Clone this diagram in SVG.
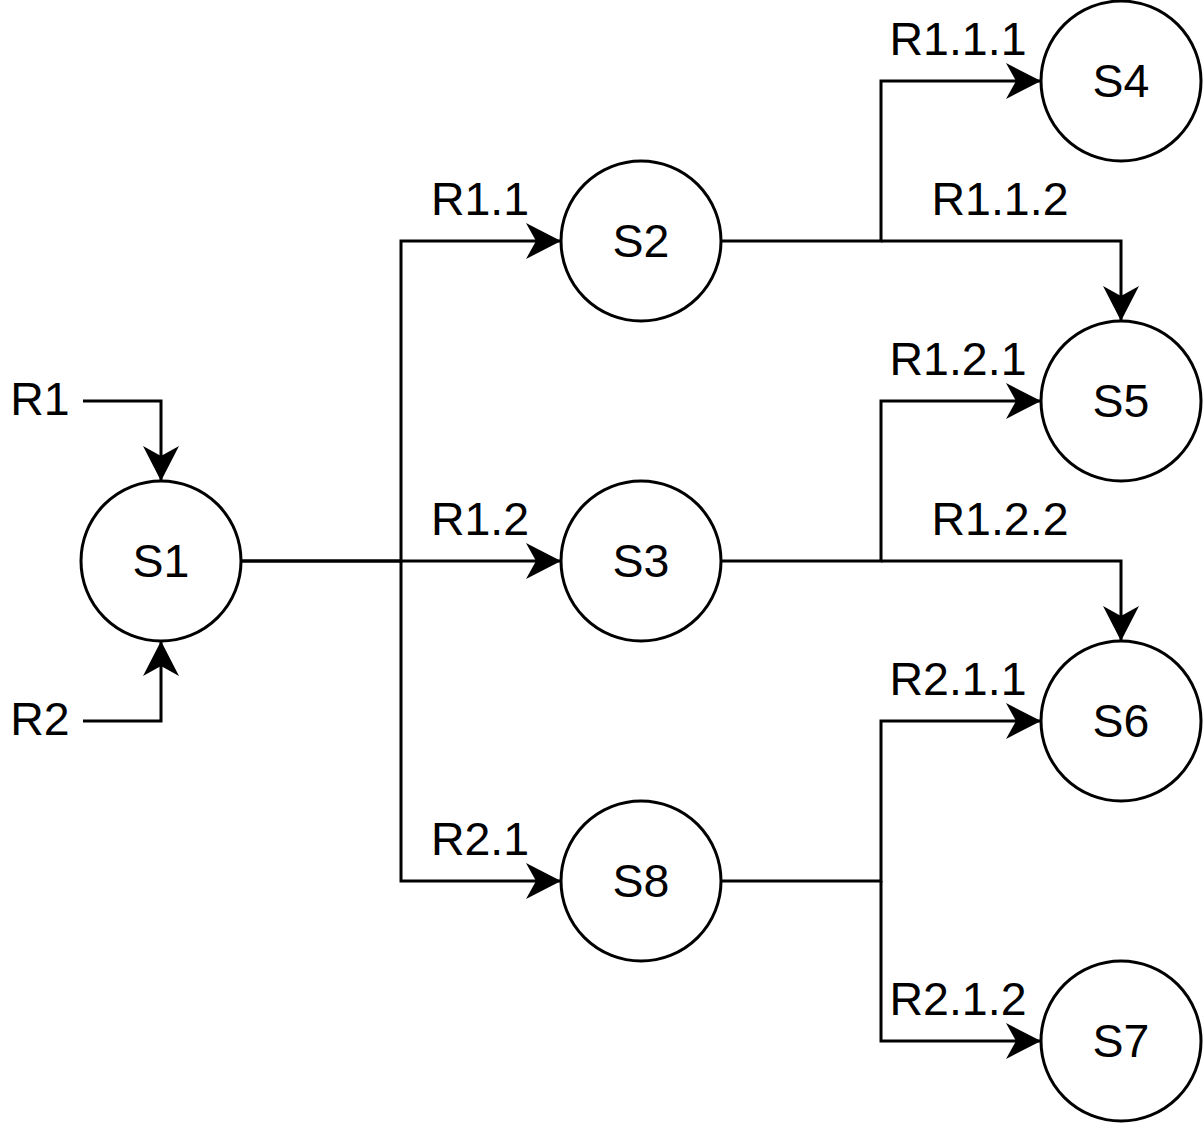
<svg xmlns="http://www.w3.org/2000/svg" width="1204" height="1128" viewBox="0 0 1204 1128">
<defs>
<marker id="arr" markerUnits="userSpaceOnUse" markerWidth="40" markerHeight="40" viewBox="0 0 40 40" refX="35" refY="20" orient="auto">
<path d="M0,2 L35,20 L0,38 L10,20 Z" fill="#000"/>
</marker>
<style>
.n{fill:#fff;stroke:#000;stroke-width:3}
.e{fill:none;stroke:#000;stroke-width:3}
.a{marker-end:url(#arr)}
text{font-family:"Liberation Sans",Arial,sans-serif;font-size:46.5px;fill:#000;text-anchor:middle}
</style>
</defs>
<rect width="1204" height="1128" fill="#fff"/>
<g id="connectors">
<path class="e a" d="M83,401 H161 V481"/>
<path class="e a" d="M83,721 H161 V641"/>
<path class="e a" d="M241,561 H401 V241 H561"/>
<path class="e a" d="M241,561 H561"/>
<path class="e a" d="M401,561 V881 H561"/>
<path class="e a" d="M721,241 H881 V81 H1041"/>
<path class="e a" d="M881,241 H1121 V321"/>
<path class="e a" d="M721,561 H881 V401 H1041"/>
<path class="e a" d="M881,561 H1121 V641"/>
<path class="e a" d="M721,881 H881 V721 H1041"/>
<path class="e a" d="M881,881 V1041 H1041"/>
</g>
<g id="labels">
<text x="40" y="415">R1</text>
<text x="40" y="735">R2</text>
<text x="480" y="215">R1.1</text>
<text x="480" y="535">R1.2</text>
<text x="480" y="855">R2.1</text>
<text x="958" y="55">R1.1.1</text>
<text x="1000" y="215">R1.1.2</text>
<text x="958" y="375">R1.2.1</text>
<text x="1000" y="535">R1.2.2</text>
<text x="958" y="695">R2.1.1</text>
<text x="958" y="1015">R2.1.2</text>
</g>
<g id="S1"><circle class="n" cx="161" cy="561" r="80"/><text x="161" y="577">S1</text></g>
<g id="S2"><circle class="n" cx="641" cy="241" r="80"/><text x="641" y="257">S2</text></g>
<g id="S3"><circle class="n" cx="641" cy="561" r="80"/><text x="641" y="577">S3</text></g>
<g id="S8"><circle class="n" cx="641" cy="881" r="80"/><text x="641" y="897">S8</text></g>
<g id="S4"><circle class="n" cx="1121" cy="81" r="80"/><text x="1121" y="97">S4</text></g>
<g id="S5"><circle class="n" cx="1121" cy="401" r="80"/><text x="1121" y="417">S5</text></g>
<g id="S6"><circle class="n" cx="1121" cy="721" r="80"/><text x="1121" y="737">S6</text></g>
<g id="S7"><circle class="n" cx="1121" cy="1041" r="80"/><text x="1121" y="1057">S7</text></g>
</svg>
